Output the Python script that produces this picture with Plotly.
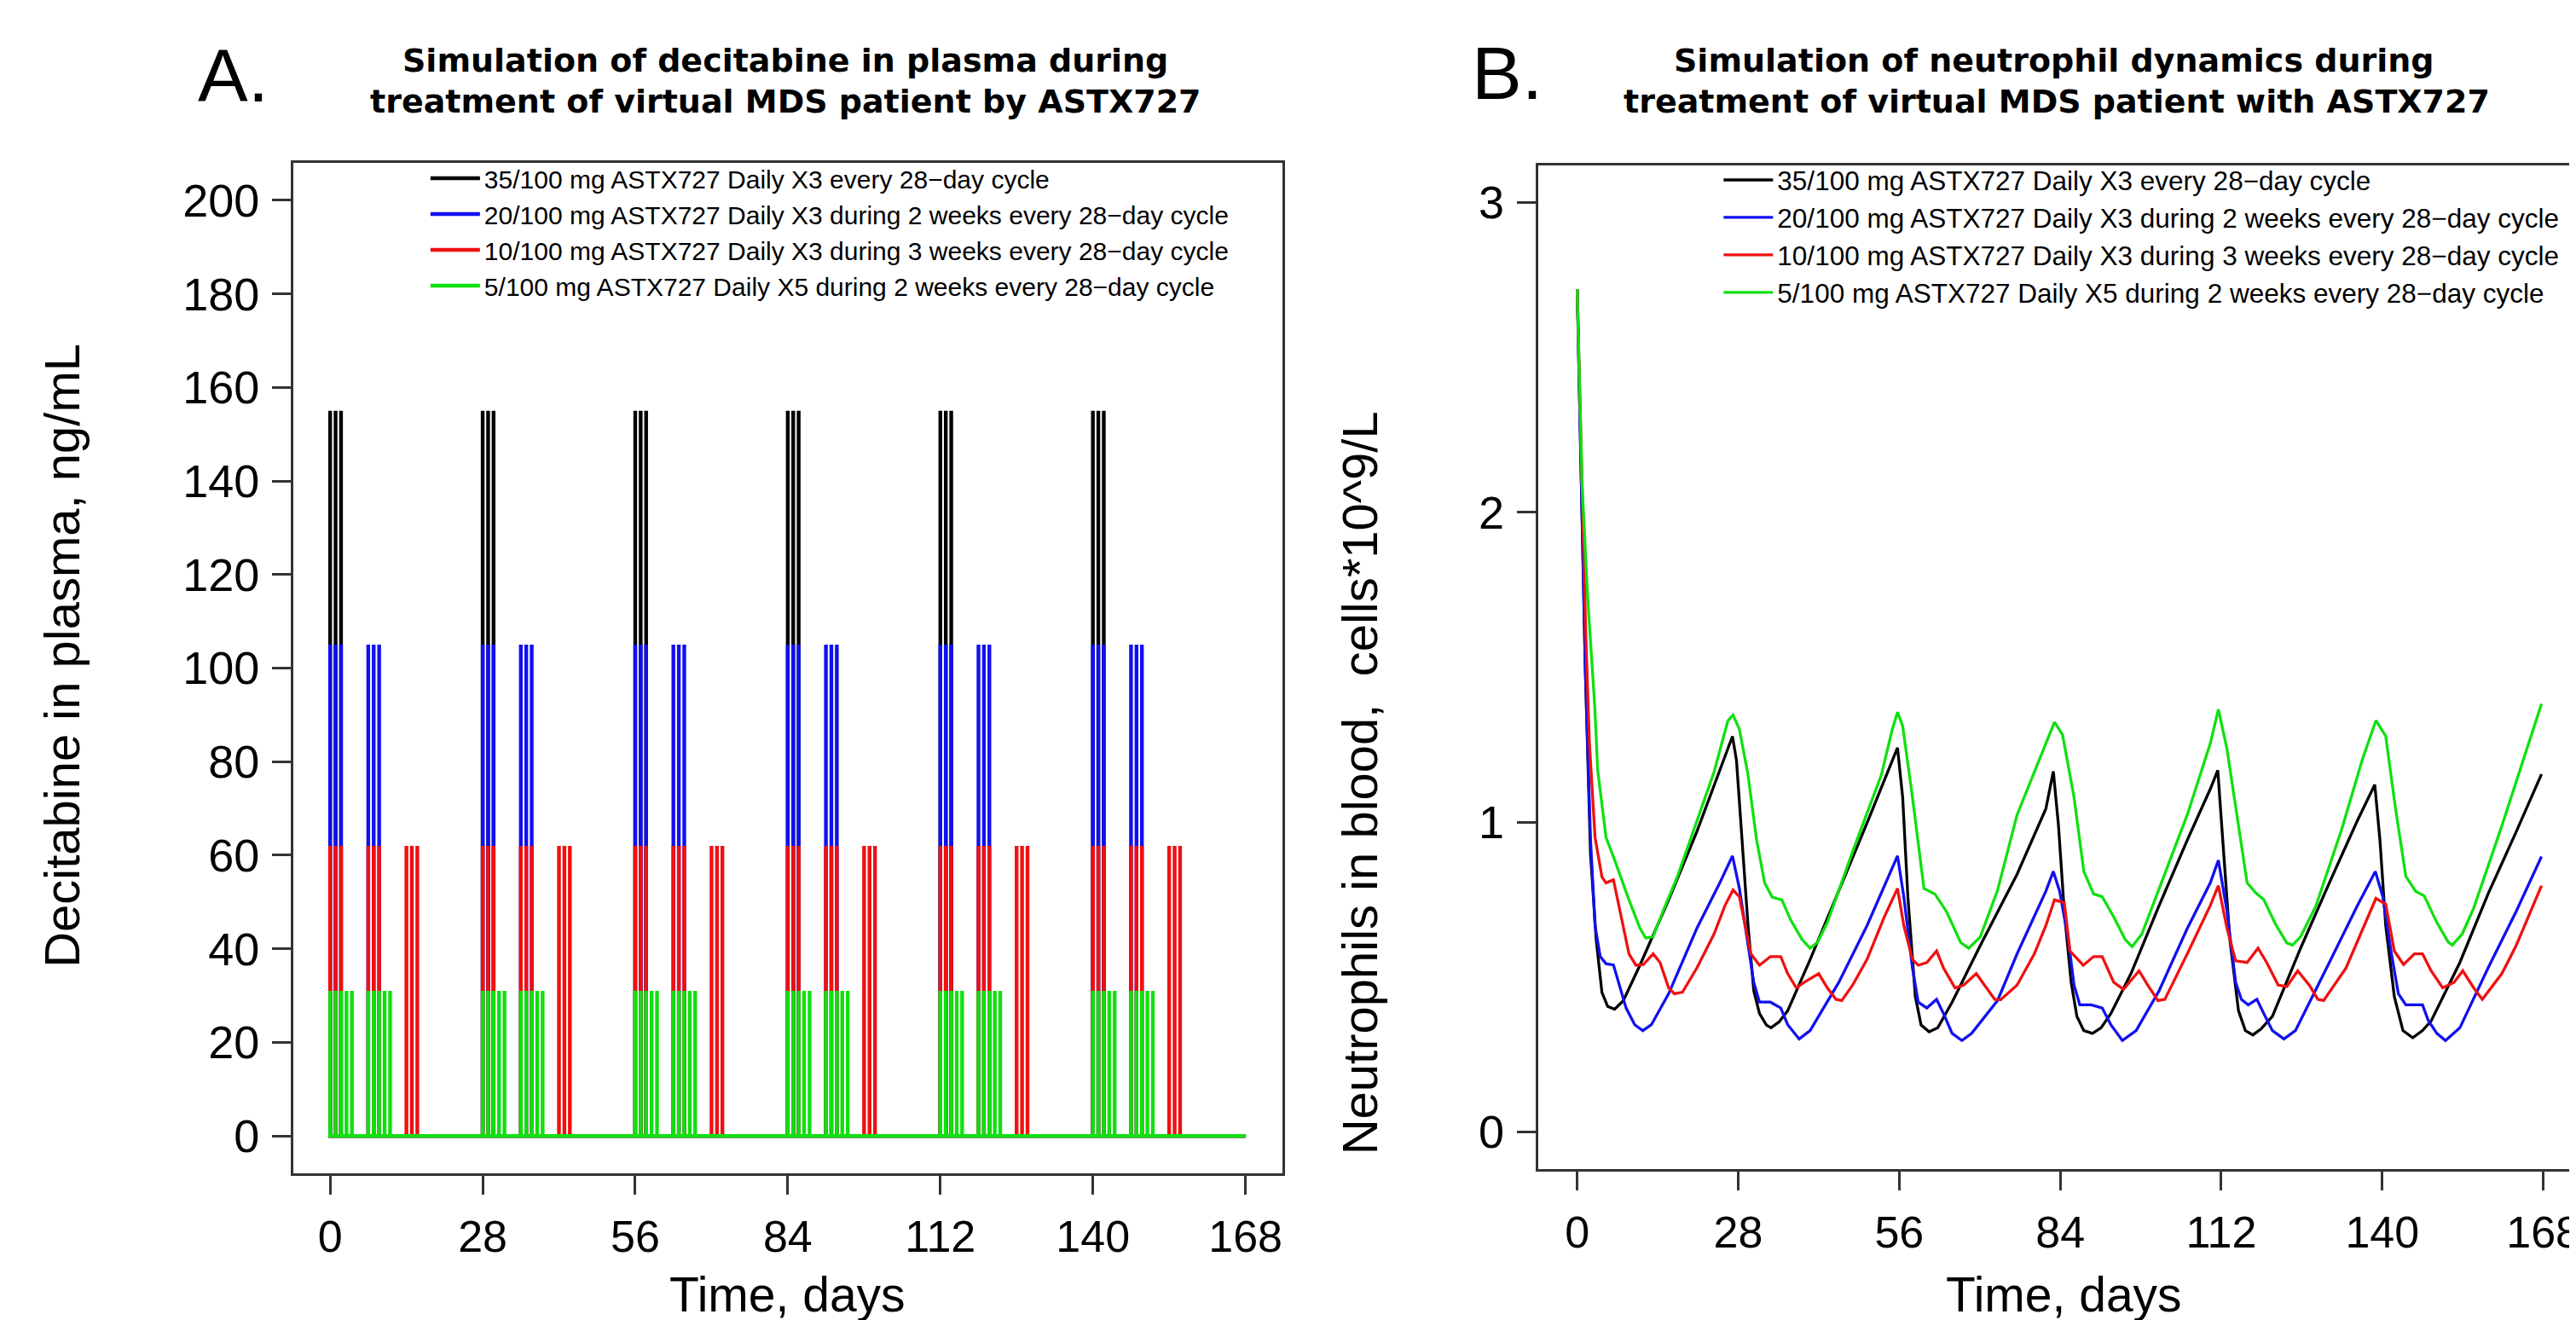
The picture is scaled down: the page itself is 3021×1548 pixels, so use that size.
import plotly.graph_objects as go

# ---------------- data ----------------
regimen_labels = [
    "35/100 mg ASTX727 Daily X3 every 28\u2212day cycle",
    "20/100 mg ASTX727 Daily X3 during 2 weeks every 28\u2212day cycle",
    "10/100 mg ASTX727 Daily X3 during 3 weeks every 28\u2212day cycle",
    "5/100 mg ASTX727 Daily X5 during 2 weeks every 28\u2212day cycle",
]
colors = ["#000000", "#1010F0", "#F01010", "#10E010"]

day_ticks = [0, 28, 56, 84, 112, 140, 168]
conc_ticks = [0, 20, 40, 60, 80, 100, 120, 140, 160, 180, 200]
neut_ticks = [0, 1, 2, 3]

# Panel A: dosing schedule and peak plasma concentrations (ng/mL)
cycle_starts = [0, 28, 56, 84, 112, 140]
sim_end_day = 168
dose_days_black = [0, 1, 2]
dose_days_blue = [0, 1, 2, 7, 8, 9]
dose_days_red = [0, 1, 2, 7, 8, 9, 14, 15, 16]
dose_days_green = [0, 1, 2, 3, 4, 7, 8, 9, 10, 11]
peak_black = 155
peak_blue = 105
peak_red = 62
peak_green = 31

# Panel B: neutrophils (cells*10^9/L)
black_days = [0, 0.7, 1.4, 2.3, 3.3, 4.3, 5.3, 6.5, 8.0, 10.9, 15.9, 20.8, 24.8, 27.0,
              27.7, 28.7, 29.7, 30.7, 31.7, 32.9, 33.7, 35.1, 36.6, 40.5, 45.5, 50.4, 55.7,
              56.6, 57.5, 58.8, 59.8, 61.2, 62.7, 65.2, 70.1, 76.5, 81.5, 82.8,
              83.7, 84.7, 85.9, 86.9, 88.1, 89.6, 91.1, 92.8, 96.3, 101.2, 106.1, 110.1, 111.4,
              112.5, 113.5, 115.0, 116.2, 117.5, 118.9, 120.9, 125.8, 130.8, 135.7, 138.7,
              139.6, 140.6, 142.1, 143.6, 145.3, 147.0, 148.5, 153.5, 158.4, 163.3, 167.7]
black_vals = [2.72, 2.10, 1.50, 0.90, 0.62, 0.45, 0.405, 0.396, 0.423, 0.538, 0.749, 0.969, 1.171, 1.277,
              1.199, 0.942, 0.667, 0.456, 0.382, 0.345, 0.336, 0.355, 0.391, 0.556, 0.777, 0.997, 1.240,
              1.080, 0.759, 0.437, 0.345, 0.323, 0.336, 0.419, 0.602, 0.832, 1.043, 1.164,
              0.988, 0.713, 0.483, 0.373, 0.327, 0.318, 0.336, 0.382, 0.511, 0.731, 0.942, 1.107, 1.167,
              0.896, 0.621, 0.391, 0.327, 0.313, 0.332, 0.373, 0.593, 0.804, 1.006, 1.121,
              0.942, 0.667, 0.437, 0.327, 0.304, 0.327, 0.358, 0.547, 0.768, 0.969, 1.155]

blue_days = [0, 0.7, 1.4, 2.3, 3.1, 4.0, 5.0, 6.3, 7.2, 8.5, 10.0, 11.4, 12.9, 15.9, 20.8, 24.8, 27.0,
             28.2, 29.2, 30.7, 31.7, 33.6, 35.4, 36.6, 38.6, 40.5, 45.5, 50.4, 55.7,
             56.8, 58.3, 59.3, 60.8, 62.5, 63.7, 65.2, 66.9, 68.6, 73.1, 76.5, 81.5, 82.8,
             83.9, 85.4, 86.4, 87.4, 89.4, 91.3, 92.8, 94.8, 97.2, 101.2, 106.1, 110.1, 111.5,
             113.0, 114.5, 115.5, 116.7, 118.2, 119.4, 120.9, 122.9, 124.9, 130.8, 135.7, 138.8,
             140.1, 141.6, 142.8, 144.1, 147.0, 148.0, 149.5, 151.0, 153.5, 158.4, 163.3, 167.7]
blue_vals = [2.72, 2.10, 1.50, 0.95, 0.666, 0.566, 0.543, 0.539, 0.483, 0.400, 0.346, 0.327, 0.346, 0.446, 0.657, 0.804, 0.891,
             0.786, 0.666, 0.483, 0.419, 0.419, 0.400, 0.346, 0.300, 0.327, 0.483, 0.666, 0.891,
             0.759, 0.529, 0.419, 0.400, 0.428, 0.382, 0.318, 0.295, 0.318, 0.424, 0.575, 0.777, 0.841,
             0.777, 0.621, 0.474, 0.410, 0.410, 0.400, 0.346, 0.295, 0.327, 0.456, 0.657, 0.804, 0.877,
             0.712, 0.483, 0.428, 0.410, 0.428, 0.382, 0.327, 0.300, 0.327, 0.547, 0.731, 0.841,
             0.759, 0.575, 0.446, 0.410, 0.410, 0.360, 0.318, 0.295, 0.336, 0.529, 0.712, 0.889]

red_days = [0, 0.8, 1.5, 2.1, 3.1, 4.3, 5.0, 6.3, 7.5, 9.0, 10.2, 11.5, 13.2, 14.4, 15.9, 16.9, 18.3,
            20.8, 23.8, 25.7, 27.1, 28.2, 29.2, 30.2, 31.7, 33.6, 35.4, 36.6, 38.1, 39.5, 42.0,
            43.5, 45.0, 46.0, 47.9, 50.4, 53.4, 55.7, 56.8, 58.3, 59.3, 60.8, 62.5, 63.7, 65.7,
            67.2, 69.4, 71.1, 72.6, 73.6, 76.5, 79.5, 81.5, 83.0, 84.7, 85.7, 88.0, 89.8, 91.3,
            93.3, 95.0, 97.7, 99.2, 101.0, 102.2, 106.1, 110.1, 111.5, 113.0, 114.5, 116.5, 118.4,
            119.9, 121.9, 123.4, 125.3, 127.3, 128.8, 129.8, 133.7, 136.7, 138.9, 140.6, 142.1,
            143.7, 145.6, 147.0, 148.5, 150.5, 152.5, 154.0, 155.9, 157.4, 160.8, 163.3, 167.7]
red_vals = [2.72, 2.10, 1.60, 1.263, 0.951, 0.823, 0.804, 0.814, 0.712, 0.575, 0.538, 0.540, 0.575, 0.547, 0.465, 0.446, 0.451,
            0.529, 0.639, 0.731, 0.781, 0.759, 0.666, 0.575, 0.538, 0.566, 0.566, 0.511, 0.465, 0.483, 0.511,
            0.465, 0.428, 0.424, 0.474, 0.557, 0.694, 0.786, 0.666, 0.557, 0.538, 0.547, 0.584, 0.529, 0.465,
            0.474, 0.511, 0.465, 0.428, 0.426, 0.474, 0.575, 0.666, 0.749, 0.740, 0.584, 0.538, 0.566, 0.566,
            0.483, 0.460, 0.520, 0.474, 0.424, 0.428, 0.575, 0.731, 0.795, 0.657, 0.552, 0.547, 0.593,
            0.547, 0.474, 0.469, 0.520, 0.474, 0.428, 0.424, 0.529, 0.657, 0.754, 0.735, 0.584,
            0.540, 0.575, 0.575, 0.520, 0.465, 0.483, 0.520, 0.465, 0.428, 0.511, 0.602, 0.795]

green_days = [0, 0.85, 1.8, 3.06, 3.55, 5.0, 6.5, 9.0, 10.9, 11.9, 13.2, 14.9, 17.4, 20.8, 23.8, 26.2, 27.1,
              28.2, 29.7, 31.2, 32.6, 33.9, 35.6, 37.1, 39.1, 40.5, 41.8, 43.5, 47.9, 52.9, 54.8, 55.7,
              56.6, 58.3, 60.3, 62.2, 64.2, 66.7, 68.1, 70.1, 73.1, 76.5, 80.5, 83.0,
              84.4, 86.4, 88.1, 89.8, 91.3, 93.3, 95.3, 96.5, 98.2, 101.2, 106.1, 110.1, 111.5,
              113.0, 115.0, 116.5, 118.0, 119.4, 121.4, 123.4, 124.4, 125.8, 128.5, 133.0, 136.5, 138.9,
              140.6, 142.3, 144.1, 145.8, 147.3, 148.5, 149.5, 151.5, 152.2, 153.9, 155.9, 160.8, 164.8, 167.7]
green_vals = [2.72, 2.09, 1.73, 1.37, 1.17, 0.951, 0.878, 0.749, 0.658, 0.626, 0.630, 0.712, 0.823, 1.006, 1.162, 1.327, 1.346,
              1.300, 1.153, 0.942, 0.804, 0.758, 0.749, 0.685, 0.621, 0.593, 0.612, 0.676, 0.905, 1.153, 1.300, 1.355,
              1.310, 1.080, 0.786, 0.768, 0.712, 0.611, 0.593, 0.630, 0.780, 1.024, 1.208, 1.323,
              1.282, 1.080, 0.841, 0.768, 0.759, 0.694, 0.621, 0.598, 0.639, 0.786, 1.024, 1.254, 1.364,
              1.236, 0.988, 0.804, 0.772, 0.750, 0.672, 0.610, 0.603, 0.630, 0.731, 0.980, 1.200, 1.328,
              1.278, 1.045, 0.825, 0.777, 0.762, 0.713, 0.676, 0.612, 0.603, 0.639, 0.722, 0.988, 1.217, 1.382]

# ---------------- helpers ----------------
W, H = 3021, 1548
FONT = "Liberation Sans, Arial, sans-serif"


def px(x):
    return x / W


def py(y):
    return 1 - y / H


def spike_path(offsets, peak):
    xs, ys = [0], [0]
    for c in cycle_starts:
        for o in offsets:
            d = c + o
            xs += [d, d, d]
            ys += [0, peak, 0]
    xs.append(sim_end_day)
    ys.append(0)
    return xs, ys


fig = go.Figure()

pk = [
    (dose_days_black, peak_black),
    (dose_days_blue, peak_blue),
    (dose_days_red, peak_red),
    (dose_days_green, peak_green),
]
for i, (offs, peak) in enumerate(pk):
    xs, ys = spike_path(offs, peak)
    fig.add_trace(go.Scatter(x=xs, y=ys, mode="lines", name=regimen_labels[i],
                             line=dict(color=colors[i], width=4.4),
                             xaxis="x", yaxis="y", legend="legend"))

neut = [(black_days, black_vals), (blue_days, blue_vals), (red_days, red_vals), (green_days, green_vals)]
for i, (d, v) in enumerate(neut):
    fig.add_trace(go.Scatter(x=d, y=v, mode="lines", name=regimen_labels[i],
                             line=dict(color=colors[i], width=3.3),
                             xaxis="x2", yaxis="y2", legend="legend2"))

axis_common = dict(showgrid=False, zeroline=False, showline=True, mirror=True,
                   linecolor="#333333", linewidth=3, ticks="outside", ticklen=22,
                   tickwidth=2.5, tickcolor="#333333", ticklabeloverflow="allow")

fig.update_layout(
    width=W, height=H,
    margin=dict(l=0, r=0, t=0, b=0),
    paper_bgcolor="white", plot_bgcolor="white",
    font=dict(family=FONT, color="#000000"),
    xaxis=dict(domain=[px(337), px(1499)], range=[-6.72, 174.72], tickvals=day_ticks,
               tickfont=dict(size=52), ticklabelstandoff=5, anchor="y", **axis_common),
    yaxis=dict(domain=[py(1368), py(183)], range=[-8, 208], tickvals=conc_ticks,
               tickfont=dict(size=54), ticklabelstandoff=4, anchor="x", **axis_common),
    xaxis2=dict(domain=[px(1800), px(3018)], range=[-6.8, 173.4], tickvals=day_ticks,
                tickfont=dict(size=52), ticklabelstandoff=5, anchor="y2", **axis_common),
    yaxis2=dict(domain=[py(1363), py(186)], range=[-0.12, 3.12], tickvals=neut_ticks,
                tickfont=dict(size=54), ticklabelstandoff=4, anchor="x2", **axis_common),
    legend=dict(x=px(493), y=py(175), xanchor="left", yanchor="top",
                bgcolor="rgba(0,0,0,0)", font=dict(size=30, family=FONT),
                itemwidth=58, tracegroupgap=0),
    legend2=dict(x=px(2013), y=py(176), xanchor="left", yanchor="top",
                 bgcolor="rgba(0,0,0,0)", font=dict(size=31.5, family=FONT),
                 itemwidth=58, tracegroupgap=0),
)

TITLE_FONT = dict(family="DejaVu Sans, sans-serif", size=38, color="#000000")
ann = [
    dict(text="<b>Simulation of decitabine in plasma during</b>", x=px(915), y=py(63), font=TITLE_FONT),
    dict(text="<b>treatment of virtual MDS patient by ASTX727</b>", x=px(916), y=py(111), font=TITLE_FONT),
    dict(text="<b>Simulation of neutrophil dynamics during</b>", x=px(2407), y=py(63), font=TITLE_FONT),
    dict(text="<b>treatment of virtual MDS patient with ASTX727</b>", x=px(2410), y=py(111), font=TITLE_FONT),
    dict(text="A.", x=px(266), y=py(80), font=dict(family=FONT, size=88)),
    dict(text="B.", x=px(1764), y=py(78), font=dict(family=FONT, size=88)),
    dict(text="Time, days", x=px(918), y=py(1510), font=dict(family=FONT, size=57)),
    dict(text="Time, days", x=px(2418), y=py(1510), font=dict(family=FONT, size=57)),
    dict(text="Decitabine in plasma, ng/mL", x=px(64), y=py(761), textangle=-90,
         font=dict(family=FONT, size=58)),
    dict(text="Neutrophils in blood,  cells*10^9/L", x=px(1590), y=py(910), textangle=-90,
         font=dict(family=FONT, size=58)),
]
for a in ann:
    a.update(xref="paper", yref="paper", showarrow=False, xanchor="center", yanchor="middle")
fig.update_layout(annotations=ann)

fig.write_html("out.html")
